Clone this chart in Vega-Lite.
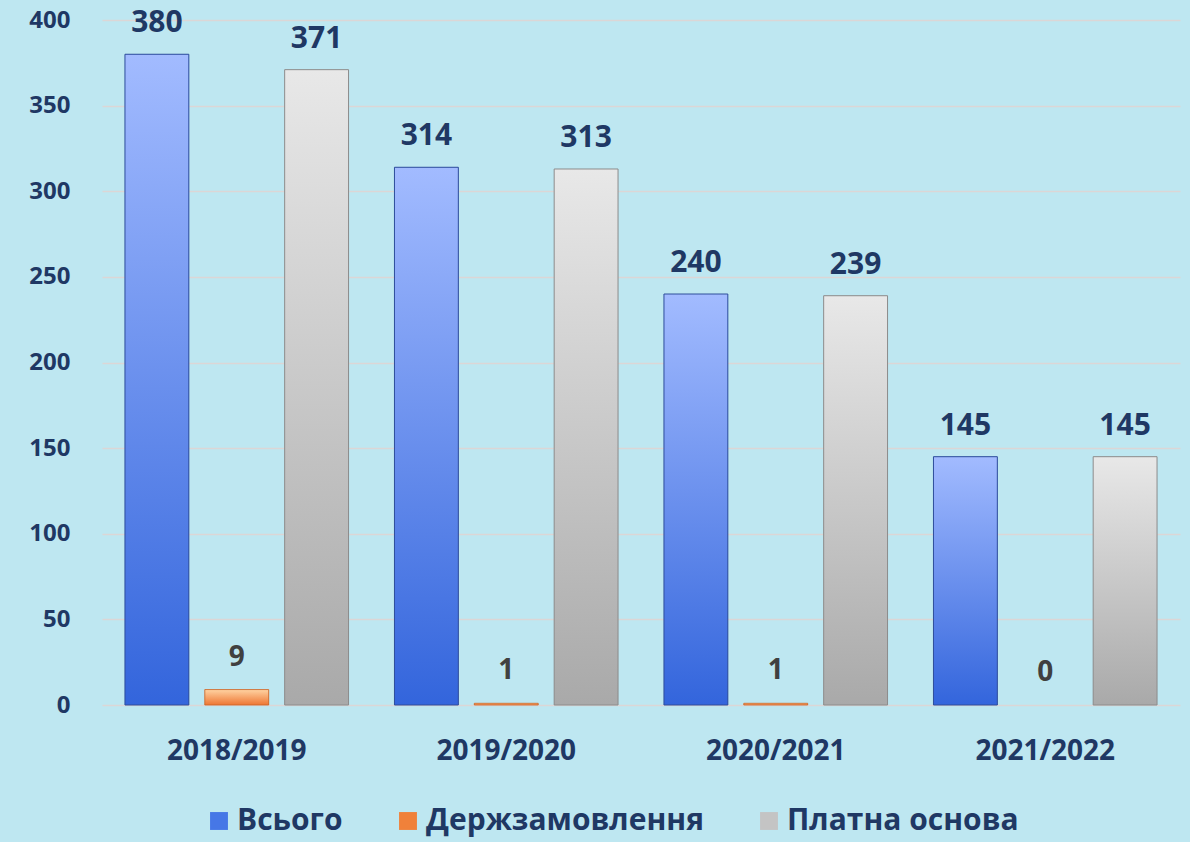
{
  "$schema": "https://vega.github.io/schema/vega-lite/v6.json",
  "width": 1078,
  "height": 685,
  "autosize": {"type": "none"},
  "padding": {"left": 102, "top": 20, "right": 10, "bottom": 137},
  "background": "#BEE7F1",
  "config": {"view": {"stroke": null}, "font": "Open Sans"},
  "data": {
    "values": [
      {"year": "2018/2019", "series": "Всього", "value": 380},
      {"year": "2018/2019", "series": "Держзамовлення", "value": 9},
      {"year": "2018/2019", "series": "Платна основа", "value": 371},
      {"year": "2019/2020", "series": "Всього", "value": 314},
      {"year": "2019/2020", "series": "Держзамовлення", "value": 1},
      {"year": "2019/2020", "series": "Платна основа", "value": 313},
      {"year": "2020/2021", "series": "Всього", "value": 240},
      {"year": "2020/2021", "series": "Держзамовлення", "value": 1},
      {"year": "2020/2021", "series": "Платна основа", "value": 239},
      {"year": "2021/2022", "series": "Всього", "value": 145},
      {"year": "2021/2022", "series": "Держзамовлення", "value": 0},
      {"year": "2021/2022", "series": "Платна основа", "value": 145}
    ]
  },
  "encoding": {
    "x": {
      "field": "year", "type": "nominal", "sort": null,
      "scale": {"paddingInner": 0, "paddingOuter": 0},
      "axis": {
        "title": null, "labelAngle": 0, "domain": false, "ticks": false,
        "labelFontSize": 28, "labelFontWeight": "bold", "labelColor": "#1F3864",
        "labelPadding": 32
      }
    },
    "xOffset": {
      "field": "series", "type": "nominal",
      "sort": ["Всього", "Держзамовлення", "Платна основа"],
      "scale": {"paddingInner": 0.2, "paddingOuter": 0.2875}
    },
    "y": {
      "field": "value", "type": "quantitative",
      "scale": {"domain": [0, 400], "nice": false},
      "axis": {
        "title": null, "domain": false, "ticks": false,
        "values": [0, 50, 100, 150, 200, 250, 300, 350, 400],
        "grid": true, "gridColor": "#DCD6D6", "gridWidth": 1.5,
        "labelFontSize": 24, "labelFontWeight": "bold", "labelColor": "#1F3864",
        "labelPadding": 32
      }
    }
  },
  "layer": [
    {
      "mark": {"type": "bar"},
      "encoding": {
        "color": {
          "field": "series", "type": "nominal",
          "scale": {
            "domain": ["Всього", "Держзамовлення", "Платна основа"],
            "range": ["#4677E6", "#F0813A", "#C4C4C4"]
          },
          "legend": {
            "title": null, "orient": "none", "direction": "horizontal",
            "legendX": 102, "legendY": 786, "padding": 0,
            "symbolType": "square", "symbolSize": 320, "symbolStrokeWidth": 0,
            "labelFontSize": 30, "labelFontWeight": "bold", "labelColor": "#1F3864",
            "labelLimit": 0, "labelOffset": 3, "columnPadding": 50
          }
        }
      }
    },
    {
      "transform": [{"filter": "datum.series === 'Всього'"}],
      "mark": {
        "type": "bar", "stroke": "#2F4E9A", "strokeWidth": 1,
        "color": {"gradient": "linear", "x1": 0, "y1": 0, "x2": 0, "y2": 1,
          "stops": [{"offset": 0, "color": "#A2BBFF"}, {"offset": 1, "color": "#3365DC"}]}
      }
    },
    {
      "transform": [{"filter": "datum.series === 'Держзамовлення' && datum.value > 0"}],
      "mark": {
        "type": "bar", "stroke": "#C8642A", "strokeWidth": 0.8,
        "color": {"gradient": "linear", "x1": 0, "y1": 0, "x2": 0, "y2": 1,
          "stops": [{"offset": 0, "color": "#FFD3A2"}, {"offset": 1, "color": "#EE7633"}]}
      }
    },
    {
      "transform": [{"filter": "datum.series === 'Платна основа'"}],
      "mark": {
        "type": "bar", "stroke": "#8C8C8C", "strokeWidth": 1,
        "color": {"gradient": "linear", "x1": 0, "y1": 0, "x2": 0, "y2": 1,
          "stops": [{"offset": 0, "color": "#E8E8E8"}, {"offset": 1, "color": "#A9A9A9"}]}
      }
    },
    {
      "transform": [{"filter": "datum.series !== 'Держзамовлення'"}],
      "mark": {"type": "text", "baseline": "alphabetic", "dy": -22, "fontSize": 30, "fontWeight": "bold", "color": "#1F3864"},
      "encoding": {"text": {"field": "value", "type": "quantitative"}}
    },
    {
      "transform": [{"filter": "datum.series === 'Держзамовлення'"}],
      "mark": {"type": "text", "baseline": "alphabetic", "dy": -24, "fontSize": 28, "fontWeight": "bold", "color": "#404040"},
      "encoding": {"text": {"field": "value", "type": "quantitative"}}
    }
  ]
}
